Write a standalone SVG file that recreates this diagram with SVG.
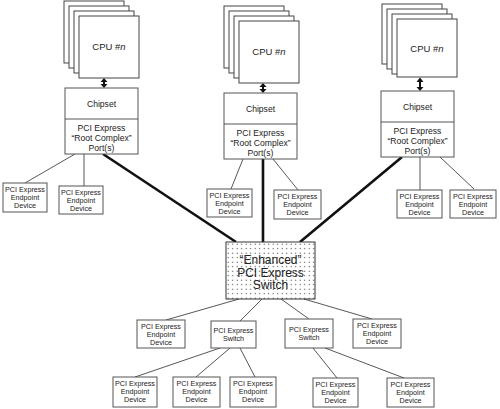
<svg xmlns="http://www.w3.org/2000/svg" width="500" height="409" viewBox="0 0 500 409">
<style>
.card{fill:#fff;stroke:#444;stroke-width:1}
.box{fill:#fff;stroke:#555;stroke-width:1}
.t{font-family:"Liberation Sans",Arial,sans-serif;fill:#222;text-anchor:middle}
.cpu{font-size:9.5px}
.cs{font-size:8.6px}
.ep{font-size:7.2px}
.big{font-size:12px}
.thin{stroke:#444;stroke-width:0.9;fill:none}
.thick{stroke:#111;stroke-width:2.6;fill:none}
.shaft{stroke:#111;stroke-width:2;fill:none}
.head{fill:#111}
</style>
<defs>
<pattern id="dots" x="226" y="242" width="4.5" height="4.5" patternUnits="userSpaceOnUse">
<rect width="4.5" height="4.5" fill="#fff"/>
<circle cx="2.2" cy="2.2" r="0.6" fill="#333"/>
</pattern>
</defs>
<rect width="500" height="409" fill="#fff"/>

<g id="connectors">
<line class="shaft" x1="104" y1="81" x2="104" y2="85"/>
<path class="head" d="M100.5,82 L104,78 L107.5,82 Z M100.5,84 L104,88 L107.5,84 Z"/>
<line class="shaft" x1="263" y1="86" x2="263" y2="90"/>
<path class="head" d="M259.5,87 L263,83 L266.5,87 Z M259.5,89 L263,93 L266.5,89 Z"/>
<line class="shaft" x1="420" y1="81" x2="420" y2="88"/>
<path class="head" d="M416.5,82 L420,77.5 L423.5,82 Z M416.5,87 L420,91 L423.5,87 Z"/>
<line class="thin" x1="75" y1="154" x2="25" y2="183"/>
<line class="thin" x1="84" y1="154" x2="84" y2="186"/>
<line class="thin" x1="243" y1="159" x2="231" y2="189"/>
<line class="thin" x1="273" y1="159" x2="298" y2="190"/>
<line class="thin" x1="420" y1="157" x2="420" y2="190"/>
<line class="thin" x1="440" y1="157" x2="474" y2="189"/>
<line class="thick" x1="103" y1="154" x2="236" y2="242"/>
<line class="thick" x1="263" y1="159" x2="263" y2="242"/>
<line class="thick" x1="402" y1="157" x2="300" y2="242"/>
<line class="thin" x1="239" y1="299" x2="166" y2="320"/>
<line class="thin" x1="262" y1="299" x2="240" y2="321"/>
<line class="thin" x1="281" y1="299" x2="309" y2="319"/>
<line class="thin" x1="304" y1="299" x2="372" y2="319"/>
<line class="thin" x1="220" y1="348" x2="135" y2="377"/>
<line class="thin" x1="230" y1="348" x2="196" y2="377"/>
<line class="thin" x1="240" y1="348" x2="255" y2="377"/>
<line class="thin" x1="313" y1="348" x2="337" y2="378"/>
<line class="thin" x1="325" y1="348" x2="404" y2="378"/>
</g>

<g id="cpu-left">
<rect class="card" x="64" y="1" width="60" height="62"/>
<rect class="card" x="69" y="6" width="60" height="62"/>
<rect class="card" x="74" y="11" width="60" height="62"/>
<rect class="card" x="79" y="16" width="60" height="62"/>
<text class="t cpu" x="109" y="50">CPU #<tspan font-style="italic">n</tspan></text>
</g>
<g id="cpu-mid">
<rect class="card" x="224" y="6" width="60" height="62"/>
<rect class="card" x="229" y="11" width="60" height="62"/>
<rect class="card" x="234" y="16" width="60" height="62"/>
<rect class="card" x="239" y="21" width="60" height="62"/>
<text class="t cpu" x="269" y="55">CPU #<tspan font-style="italic">n</tspan></text>
</g>
<g id="cpu-right">
<rect class="card" x="382" y="4" width="60" height="60"/>
<rect class="card" x="387" y="9" width="60" height="60"/>
<rect class="card" x="392" y="14" width="60" height="60"/>
<rect class="card" x="397" y="19" width="60" height="58"/>
<text class="t cpu" x="427" y="52">CPU #<tspan font-style="italic">n</tspan></text>
</g>

<g id="chipset-left">
<rect class="box" x="65" y="88" width="73" height="66"/>
<line class="thin" x1="65" y1="119" x2="138" y2="119"/>
<text class="t cs" x="101.5" y="107">Chipset</text>
<text class="t cs" x="101.5" y="130.5">PCI Express</text>
<text class="t cs" x="101.5" y="140.5">“Root Complex”</text>
<text class="t cs" x="101.5" y="150.5">Port(s)</text>
</g>
<g id="chipset-mid">
<rect class="box" x="224" y="93" width="73" height="66"/>
<line class="thin" x1="224" y1="124" x2="297" y2="124"/>
<text class="t cs" x="260.5" y="112">Chipset</text>
<text class="t cs" x="260.5" y="135.5">PCI Express</text>
<text class="t cs" x="260.5" y="145.5">“Root Complex”</text>
<text class="t cs" x="260.5" y="155.5">Port(s)</text>
</g>
<g id="chipset-right">
<rect class="box" x="381" y="91" width="73" height="66"/>
<line class="thin" x1="381" y1="122" x2="454" y2="122"/>
<text class="t cs" x="417.5" y="110">Chipset</text>
<text class="t cs" x="417.5" y="133.5">PCI Express</text>
<text class="t cs" x="417.5" y="143.5">“Root Complex”</text>
<text class="t cs" x="417.5" y="153.5">Port(s)</text>
</g>

<g id="ep-tl1">
<rect class="box" x="3" y="183" width="44" height="29"/>
<text class="t ep" x="25" y="192">PCI Express</text><text class="t ep" x="25" y="200">Endpoint</text><text class="t ep" x="25" y="208">Device</text>
</g>
<g id="ep-tl2">
<rect class="box" x="59" y="186" width="44" height="28"/>
<text class="t ep" x="81" y="195">PCI Express</text><text class="t ep" x="81" y="203">Endpoint</text><text class="t ep" x="81" y="211">Device</text>
</g>
<g id="ep-tm1">
<rect class="box" x="207" y="189" width="45" height="28"/>
<text class="t ep" x="229.5" y="198">PCI Express</text><text class="t ep" x="229.5" y="206">Endpoint</text><text class="t ep" x="229.5" y="214">Device</text>
</g>
<g id="ep-tm2">
<rect class="box" x="274" y="190" width="47" height="29"/>
<text class="t ep" x="297.5" y="199">PCI Express</text><text class="t ep" x="297.5" y="207">Endpoint</text><text class="t ep" x="297.5" y="215">Device</text>
</g>
<g id="ep-tr1">
<rect class="box" x="397" y="190" width="45" height="28"/>
<text class="t ep" x="419.5" y="199">PCI Express</text><text class="t ep" x="419.5" y="207">Endpoint</text><text class="t ep" x="419.5" y="215">Device</text>
</g>
<g id="ep-tr2">
<rect class="box" x="450" y="190" width="46" height="28"/>
<text class="t ep" x="473" y="199">PCI Express</text><text class="t ep" x="473" y="207">Endpoint</text><text class="t ep" x="473" y="215">Device</text>
</g>

<g id="enhanced-switch">
<rect x="226" y="242" width="89" height="57" fill="url(#dots)" stroke="#333" stroke-width="1"/>
<text class="t big" x="270.5" y="264">“Enhanced”</text>
<text class="t big" x="270.5" y="276.5">PCI Express</text>
<text class="t big" x="270.5" y="289">Switch</text>
</g>

<g id="ep-b1">
<rect class="box" x="137" y="320" width="48" height="28"/>
<text class="t ep" x="161" y="329">PCI Express</text><text class="t ep" x="161" y="337">Endpoint</text><text class="t ep" x="161" y="345">Device</text>
</g>
<g id="sw-left">
<rect class="box" x="211" y="321" width="45" height="27"/>
<text class="t ep" x="233.5" y="333">PCI Express</text><text class="t ep" x="233.5" y="341">Switch</text>
</g>
<g id="sw-right">
<rect class="box" x="285" y="319" width="48" height="29"/>
<text class="t ep" x="309" y="332">PCI Express</text><text class="t ep" x="309" y="340">Switch</text>
</g>
<g id="ep-b2">
<rect class="box" x="353" y="319" width="48" height="29"/>
<text class="t ep" x="377" y="328">PCI Express</text><text class="t ep" x="377" y="336">Endpoint</text><text class="t ep" x="377" y="344">Device</text>
</g>

<g id="ep-c1">
<rect class="box" x="113" y="377" width="44" height="30"/>
<text class="t ep" x="135" y="386">PCI Express</text><text class="t ep" x="135" y="394">Endpoint</text><text class="t ep" x="135" y="402">Device</text>
</g>
<g id="ep-c2">
<rect class="box" x="173" y="377" width="47" height="30"/>
<text class="t ep" x="196.5" y="386">PCI Express</text><text class="t ep" x="196.5" y="394">Endpoint</text><text class="t ep" x="196.5" y="402">Device</text>
</g>
<g id="ep-c3">
<rect class="box" x="230" y="377" width="46" height="30"/>
<text class="t ep" x="253" y="386">PCI Express</text><text class="t ep" x="253" y="394">Endpoint</text><text class="t ep" x="253" y="402">Device</text>
</g>
<g id="ep-c4">
<rect class="box" x="313" y="378" width="45" height="29"/>
<text class="t ep" x="335.5" y="387">PCI Express</text><text class="t ep" x="335.5" y="395">Endpoint</text><text class="t ep" x="335.5" y="403">Device</text>
</g>
<g id="ep-c5">
<rect class="box" x="387" y="378" width="47" height="29"/>
<text class="t ep" x="410.5" y="387">PCI Express</text><text class="t ep" x="410.5" y="395">Endpoint</text><text class="t ep" x="410.5" y="403">Device</text>
</g>
</svg>
